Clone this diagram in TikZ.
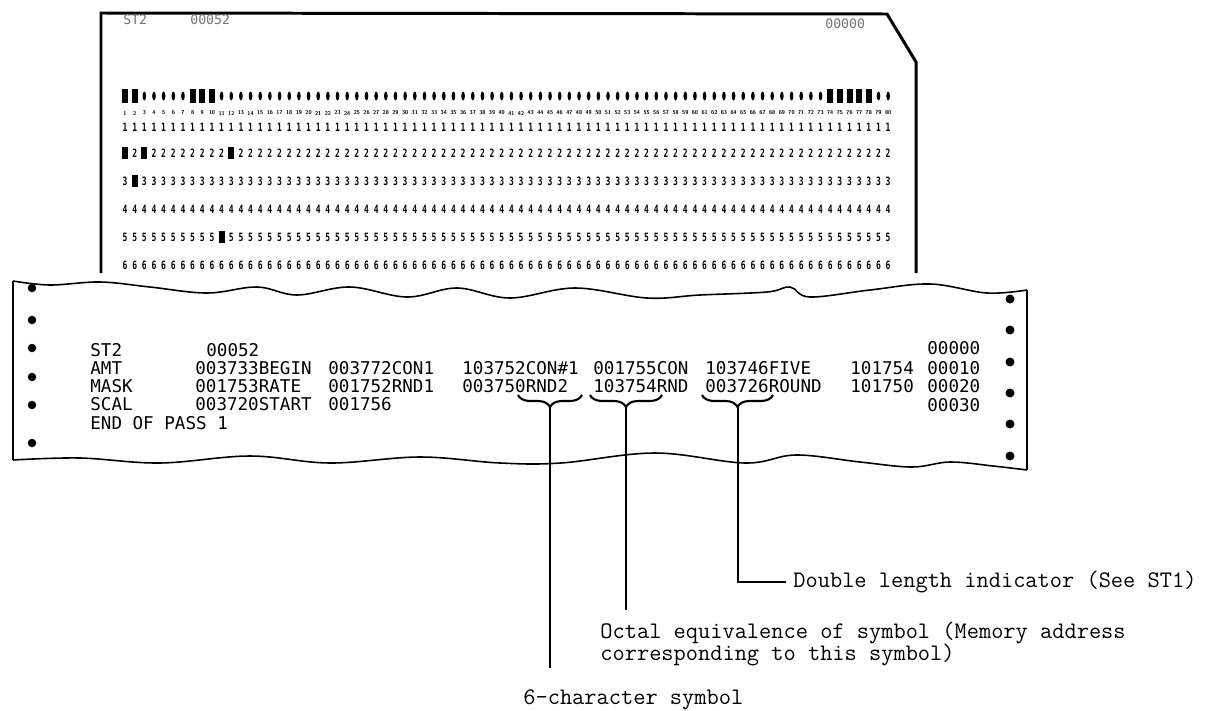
\documentclass[tikz,border=0pt]{standalone}
\usepackage{fontspec}
\newfontfamily\printfont{DejaVu Sans Mono}
\usetikzlibrary{decorations.pathreplacing,positioning}
\tikzset{
  cardedge/.style={line width=1.7pt,line join=miter},
  paperedge/.style={line width=0.9pt},
  paperside/.style={line width=1.6pt},
  feedhole/.style={fill=black},
  punch/.style={fill=black},
  lead/.style={line width=1.1pt},
  symbrace/.style={decorate,decoration={brace,amplitude=0.24cm,mirror},line width=1.2pt}
}

\begin{document}
\begin{tikzpicture}[
  x=0.02cm,y=-0.02cm,
  printout/.style={font=\printfont\fontsize{10}{10}\selectfont,anchor=west,inner sep=0pt},
  cardtext/.style={font=\printfont\fontsize{7.5}{7.5}\selectfont,text=black!55,anchor=west,inner sep=0pt},
  cardnum/.style={font=\sffamily\bfseries\fontsize{3.2}{3}\selectfont,inner sep=0pt},
  carddigit/.style={font=\printfont\bfseries\fontsize{6.5}{6}\selectfont,inner sep=0pt},
  note/.style={font=\ttfamily\fontsize{13.5}{12.5}\selectfont,align=left,inner sep=4pt}
]
\useasboundingbox (0,0) rectangle (1209,710);

% punched card
\draw[cardedge] (101,273) -- (101,13) -- (887,14) -- (916,62) -- (916,273);
\node[cardtext] (cst) at (123,20) {ST2};
\node[cardtext] (cnum) at (190,20) {00052};
\node[cardtext] (cseq) at (825,24) {00000};

\foreach \c in {1,...,80}{
  \fill ({125+(\c-1)*9.66},96) ellipse [x radius=0.036cm,y radius=0.09cm];
  \node[cardnum] (n\c) at ({125+(\c-1)*9.66},113) {\c};
}
\foreach \r/\ry in {1/127,2/153,3/181,4/209,5/237,6/265}{
  \foreach \c in {1,...,80}{
    \node[carddigit] (r\r c\c) at ({125+(\c-1)*9.66},\ry) {\scalebox{.7}[1]{\r}};
  }
}
\foreach \c in {1,2,8,9,10,74,75,76,77,78}{
  \fill[punch] ({125+(\c-1)*9.66-3},89) rectangle ({125+(\c-1)*9.66+3},103);
}
\foreach \c/\ry in {1/153,3/153,12/153,2/181,11/237}{
  \fill[punch] ({125+(\c-1)*9.66-3},\ry-6) rectangle ({125+(\c-1)*9.66+3},\ry+6);
}

% printer listing
\draw[paperedge] plot[smooth,tension=.6] coordinates {(13,281) (50,285) (100,282) (150,287)
  (207,293) (257,287) (297,295) (350,287) (407,297) (457,288) (510,298) (575,288)
  (647,298) (700,295) (767,292) (790,287) (810,297) (870,290) (930,284) (987,293) (1027,290)};
\draw[paperedge] plot[smooth,tension=.6] coordinates {(13,460) (80,458) (160,463) (250,456)
  (330,463) (420,457) (500,463) (561,463) (655,453) (745,463) (796,455) (860,462)
  (912,467) (950,462) (993,466) (1027,470)};
\draw[paperside] (13,281) -- (13,460);
\draw[paperside] (1027,290) -- (1027,470);

\foreach \y in {288,320,348,377,405,443}{
  \fill[feedhole] (32,\y) circle [radius=0.085cm];
}
\foreach \y in {299,330,362,393,424,456}{
  \fill[feedhole] (1010,\y) circle [radius=0.09cm];
}

\foreach \x/\y/\t/\n in {
  90/350/ST2/la, 206/350/00052/lb, 927/348/00000/lc,
  90/368/AMT/ma, 195/368/003733BEGIN/mb, 328/368/003772CON1/mc, 462/368/103752CON\#1/md,
  593/368/001755CON/me, 705/368/103746FIVE/mf, 850/368/101754/mg, 927/368/00010/mh,
  90/386/MASK/ka, 195/386/001753RATE/kb, 328/386/001752RND1/kc, 462/386/003750RND2/kd,
  593/386/103754RND/ke, 705/386/003726ROUND/kf, 850/386/101750/kg, 927/386/00020/kh,
  90/404/SCAL/sa, 195/404/003720START/sb, 328/404/001756/sc, 927/405/00030/sd,
  90/423/END OF PASS 1/ea}{
  \node[printout] (\n) at (\x,\y) {\t};
}

% braces and leaders
\draw[symbrace] (518,395) -- (582,395);
\draw[symbrace] (590,395) -- (662,395);
\draw[symbrace] (702,395) -- (773,395);
\coordinate (symtip) at (550,407);
\coordinate (octtip) at (626,407);
\coordinate (dbltip) at (738,407);

\node[note,anchor=west] (dbl) at (786,582) {Double length indicator (See ST1)};
\node[note,anchor=north west] (oct) at (593,615) {Octal equivalence of symbol (Memory address\\corresponding to this symbol)};
\node[note,anchor=west] (six) at (516,700) {6-character symbol};
\coordinate (octend) at (626,610);
\coordinate (symend) at (550,668);

\draw[lead] (symtip) -- (symend);
\draw[lead] (octtip) -- (octend);
\draw[lead] (dbltip) |- (dbl.west);

\end{tikzpicture}
\end{document}
